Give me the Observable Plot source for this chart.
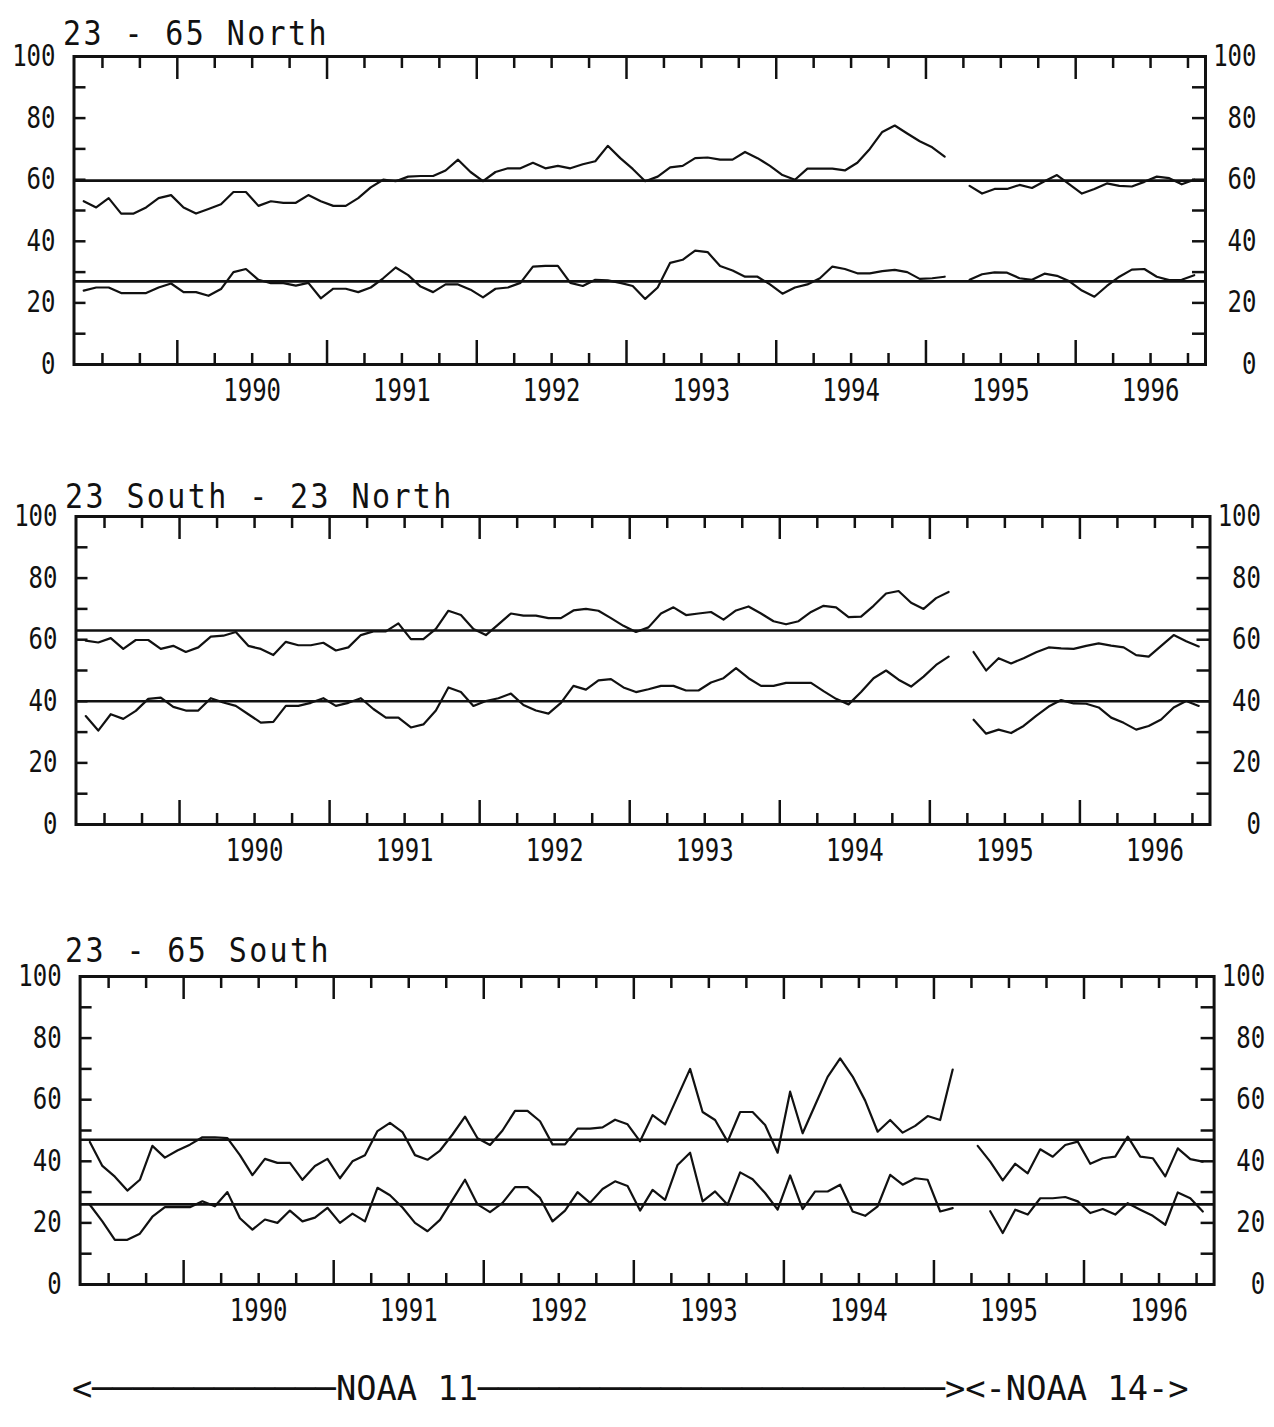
<!DOCTYPE html>
<html>
<head>
<meta charset="utf-8">
<script src="https://cdn.jsdelivr.net/npm/d3@7"></script>
<script src="https://cdn.jsdelivr.net/npm/@observablehq/plot@0.6"></script>
<style>
  body { margin: 0; background: #ffffff; }
  #root { position: relative; width: 1274px; height: 1427px; overflow: hidden;
          font-family: "DejaVu Sans Mono", monospace; color: #111; background: #ffffff; }
  .panel { position: absolute; left: 0; width: 1274px; height: 460px; }
  .panel svg { position: absolute; left: 0; top: 0; overflow: visible; }
  .title { position: absolute; font-size: 30px; line-height: 30px; letter-spacing: 2.4px;
           white-space: pre; transform-origin: 0 25px; transform: scaleY(1.1); }
  #caption { position: absolute; left: 72px; top: 1375px; font-size: 30px; line-height: 30px;
             white-space: pre; transform-origin: 0 25px; transform: scale(1.124, 1.1); }
</style>
</head>
<body>
<div id="root"></div>
<script>
// ---------- axis ticks / labels ----------
const yearLabels = [1990, 1991, 1992, 1993, 1994, 1995, 1996];
const majorTicks = [1989.5, 1990.5, 1991.5, 1992.5, 1993.5, 1994.5, 1995.5];
const minorTicks = [1989.0, 1989.25, 1989.75, 1990.0, 1990.25, 1990.75, 1991.0, 1991.25, 1991.75,
                    1992.0, 1992.25, 1992.75, 1993.0, 1993.25, 1993.75, 1994.0, 1994.25, 1994.75,
                    1995.0, 1995.25, 1995.75, 1996.0, 1996.25];
const yLabels = [0, 20, 40, 60, 80, 100];
const yMinorTicks = [10, 20, 30, 40, 50, 60, 70, 80, 90];
const xDomain = [1988.81, 1996.367];

// monthly series: index 0 = November 1988
const startYear = 1988, startMonth = 11;
const noaa11Start = 0;
const noaa14Start = 71;

// ---------- 23 - 65 North ----------
const north_upper_noaa11 = [53, 51, 54, 49, 49, 51, 54, 55, 51, 49, 50.5, 52, 56, 56, 51.5, 53, 52.5, 52.5, 55, 53,
  51.5, 51.5, 54, 57.5, 60, 59.5, 61, 61.2, 61.2, 63, 66.5, 62.5, 59.5, 62.5, 63.7, 63.7, 65.5, 63.7, 64.5, 63.7,
  65, 66, 71, 67, 63.5, 59.5, 61, 64, 64.5, 67, 67.2, 66.5, 66.5, 69, 67, 64.5, 61.5, 60, 63.6, 63.6,
  63.6, 63, 65.5, 70, 75.5, 77.6, 75, 72.5, 70.5, 67.5];
const north_lower_noaa11 = [24, 25, 25, 23.2, 23.2, 23.2, 25, 26.3, 23.5, 23.5, 22.3, 24.5, 30, 31, 27.5, 26.4, 26.4, 25.6, 26.5, 21.5,
  24.6, 24.6, 23.5, 25, 28, 31.5, 29, 25.3, 23.5, 26, 26, 24.3, 21.8, 24.6, 25, 26.5, 31.8, 32, 32, 26.5,
  25.5, 27.5, 27.3, 26.5, 25.5, 21.3, 25, 33, 34, 37, 36.5, 32, 30.5, 28.5, 28.5, 26, 23, 25, 26, 28,
  31.8, 31, 29.6, 29.6, 30.3, 30.7, 30, 27.8, 28, 28.5];
const north_upper_noaa14 = [58, 55.5, 57, 57, 58.3, 57.3, 59.5, 61.5, 58.5, 55.5, 57, 58.8, 58, 57.8, 59.3, 61, 60.5, 58.5, 60];
const north_lower_noaa14 = [27.5, 29.3, 29.9, 29.8, 28, 27.5, 29.5, 28.8, 27, 24, 22, 25.5, 28.5, 30.8, 31, 28.5, 27.4, 27.5, 29];
const north_lower14_start = 71;
const north_refs = [59.7, 27];

// ---------- 23 South - 23 North ----------
const tropics_upper_noaa11 = [59.7, 59.1, 60.5, 57, 59.9, 59.9, 57, 58, 56, 57.5, 61, 61.3, 62.5, 58, 57, 55, 59.3, 58.2, 58.2, 59,
  56.5, 57.5, 61.5, 62.7, 62.7, 65.3, 60.2, 60.2, 63.5, 69.4, 68, 63.5, 61.5, 65, 68.5, 67.8, 67.8, 67, 67, 69.5,
  70, 69.4, 67, 64.5, 62.5, 64, 68.5, 70.5, 68, 68.5, 69, 66.5, 69.5, 70.8, 68.5, 66, 65, 66, 69, 71,
  70.5, 67.3, 67.5, 71, 75, 75.8, 72, 70, 73.5, 75.5];
const tropics_lower_noaa11 = [35.2, 30.5, 35.8, 34.3, 36.9, 40.8, 41.2, 38.2, 37, 37, 41, 39.6, 38.5, 35.8, 33.1, 33.3, 38.5, 38.5, 39.5, 41,
  38.5, 39.5, 41, 37.5, 34.7, 34.7, 31.5, 32.5, 37, 44.5, 43, 38.5, 40.1, 41, 42.5, 38.8, 37, 36, 39.5, 45,
  43.8, 46.8, 47.2, 44.5, 43, 43.9, 45, 45, 43.5, 43.5, 46.1, 47.5, 50.8, 47.5, 45, 45, 46, 46, 46, 43.3,
  40.8, 39, 43, 47.5, 50, 47, 44.8, 48, 51.8, 54.5];
const tropics_upper_noaa14 = [56, 50, 54, 52.3, 54, 55.9, 57.5, 57.2, 57, 58, 58.8, 58.1, 57.5, 55, 54.5, 58, 61.5, 59.5, 57.8];
const tropics_lower_noaa14 = [34, 29.5, 30.8, 29.7, 32, 35.3, 38.3, 40.4, 39.3, 39.2, 38, 34.7, 33, 30.8, 32, 34.1, 38, 40.1, 38.5];
const tropics_lower14_start = 71;
const tropics_refs = [63, 40];

// ---------- 23 - 65 South ----------
const south_upper_noaa11 = [46.3, 38.5, 35, 30.5, 34, 45, 41.2, 43.5, 45.4, 47.8, 47.8, 47.5, 42, 35.5, 40.8, 39.5, 39.5, 34, 38.5, 40.8,
  34.5, 40, 42, 49.8, 52.5, 49.5, 42, 40.5, 43.5, 48.7, 54.5, 47.5, 45.3, 50, 56.4, 56.4, 53, 45.5, 45.5, 50.6,
  50.6, 51, 53.5, 52, 46.5, 55, 52, 61, 70, 56, 53.4, 46.4, 56, 56, 51.8, 42.8, 62.6, 49.1, 58.3, 67.4,
  73.4, 67.5, 59.7, 49.6, 53.4, 49.3, 51.5, 54.7, 53.4, 69.8];
const south_lower_noaa11 = [25.9, 20.5, 14.5, 14.5, 16.5, 22, 25.1, 25.1, 25.1, 27, 25.4, 30, 21.5, 17.8, 21.1, 20, 24, 20.5, 21.7, 24.9,
  20, 23, 20.5, 31.4, 29, 25, 20, 17.3, 21, 27.5, 34, 26, 23.5, 26.5, 31.6, 31.6, 28.1, 20.5, 24, 30,
  26.5, 31, 33.5, 32, 24, 30.7, 27.5, 38.8, 42.8, 27, 30.2, 25.9, 36.4, 34.2, 29.7, 24.3, 35.4, 24.5, 30.2, 30.2,
  32.4, 23.7, 22.3, 25.4, 35.6, 32.4, 34.5, 34, 23.7, 24.8];
const south_upper_noaa14 = [45, 39.9, 33.8, 39.2, 36.1, 43.9, 41.5, 45.3, 46.4, 39.2, 41, 41.5, 48, 41.5, 41, 35.1, 44.2, 40.7, 39.9];
const south_lower_noaa14 = [23.8, 16.7, 24.3, 22.7, 28, 28, 28.4, 27, 23.2, 24.5, 22.7, 26.4, 24.3, 22.3, 19.4, 29.9, 28, 23.7];
const south_lower14_start = 72;
const south_refs = [47, 26];

const titles = ["23 - 65 North", "23 South - 23 North", "23 - 65 South"];
const captionText = "<" + "\u2500".repeat(12) + "NOAA 11" + "\u2500".repeat(23) + "><-NOAA 14->";

// ---------- build ----------
function monthX(i) { return startYear + (startMonth - 1 + i + 0.5) / 12; }
function rows(values, start, key) {
  return values.map((v, k) => ({x: monthX(start + k), v, key}));
}

const panels = [
  {title: titles[0], u11: north_upper_noaa11, l11: north_lower_noaa11, u14: north_upper_noaa14, l14: north_lower_noaa14,
   l14s: north_lower14_start, refs: north_refs, top: 0, ml: 73.5, mr: 69, tx: 63, tb: 45},
  {title: titles[1], u11: tropics_upper_noaa11, l11: tropics_lower_noaa11, u14: tropics_upper_noaa14, l14: tropics_lower_noaa14,
   l14s: tropics_lower14_start, refs: tropics_refs, top: 460, ml: 75.5, mr: 64.5, tx: 65, tb: 48},
  {title: titles[2], u11: south_upper_noaa11, l11: south_lower_noaa11, u14: south_upper_noaa14, l14: south_lower_noaa14,
   l14s: south_lower14_start, refs: south_refs, top: 920, ml: 79.6, mr: 60.4, tx: 65, tb: 42}
];

const root = document.getElementById("root");
const H = 460, MT = 56, IH = 308;
const ink = "#111";

function stretch(svg, selector, sx, sy) {
  svg.querySelectorAll(selector).forEach(t => {
    const tr = t.getAttribute("transform") || "";
    const x = parseFloat(t.getAttribute("x")) || 0;
    const y = parseFloat(t.getAttribute("y")) || 0;
    t.setAttribute("transform", `${tr} translate(${x},${y}) scale(${sx},${sy}) translate(${-x},${-y})`);
  });
}

panels.forEach(p => {
  const data = [
    ...rows(p.u11, noaa11Start, "u11"),
    ...rows(p.l11, noaa11Start, "l11"),
    ...rows(p.u14, noaa14Start, "u14"),
    ...rows(p.l14, p.l14s, "l14")
  ];
  const IW = 1274 - p.ml - p.mr;
  const chart = Plot.plot({
    width: 1274,
    height: H,
    marginLeft: p.ml,
    marginRight: p.mr,
    marginTop: MT,
    marginBottom: H - MT - IH,
    x: {domain: xDomain, axis: null, label: null},
    y: {domain: [0, 100], axis: null, label: null},
    style: {fontFamily: "DejaVu Sans Mono", fontSize: "24px", color: ink, background: "transparent", overflow: "visible"},
    marks: [
      Plot.ruleY(p.refs, {y: d => d, stroke: ink, strokeWidth: 2.6}),
      Plot.line(data, {x: "x", y: "v", z: "key", stroke: ink, strokeWidth: 2.2}),
      Plot.ruleX(majorTicks, {x: d => d, insetTop: IH - 24, stroke: ink, strokeWidth: 2.5}),
      Plot.ruleX(majorTicks, {x: d => d, insetBottom: IH - 23, stroke: ink, strokeWidth: 2.5}),
      Plot.ruleX(minorTicks, {x: d => d, insetTop: IH - 11, stroke: ink, strokeWidth: 2.5}),
      Plot.ruleX(minorTicks, {x: d => d, insetBottom: IH - 12, stroke: ink, strokeWidth: 2.5}),
      Plot.ruleY(yMinorTicks, {y: d => d, insetRight: IW - 12, stroke: ink, strokeWidth: 2.5}),
      Plot.ruleY(yMinorTicks, {y: d => d, insetLeft: IW - 13, stroke: ink, strokeWidth: 2.5}),
      Plot.axisY(yLabels, {anchor: "left", label: null, tickSize: 0, tickPadding: 18.5, tickFormat: d => String(d)}),
      Plot.axisY(yLabels, {anchor: "right", label: null, tickSize: 0, tickPadding: 51, textAnchor: "end", tickFormat: d => String(d)}),
      Plot.axisX(yearLabels, {anchor: "bottom", label: null, tickSize: 0, tickPadding: 14, tickFormat: d => String(d)}),
      Plot.frame({stroke: ink, strokeWidth: 3})
    ]
  });
  stretch(chart, 'g[aria-label="y-axis tick label"] text', 1, 1.25);
  stretch(chart, 'g[aria-label="x-axis tick label"] text', 1, 1.35);

  const div = document.createElement("div");
  div.className = "panel";
  div.style.top = p.top + "px";
  div.appendChild(chart);
  const t = document.createElement("div");
  t.className = "title";
  t.textContent = p.title;
  t.style.left = p.tx + "px";
  t.style.top = (p.tb - 25.4) + "px";
  div.appendChild(t);
  root.appendChild(div);
});

const cap = document.createElement("div");
cap.id = "caption";
cap.textContent = captionText;
root.appendChild(cap);
</script>
</body>
</html>
